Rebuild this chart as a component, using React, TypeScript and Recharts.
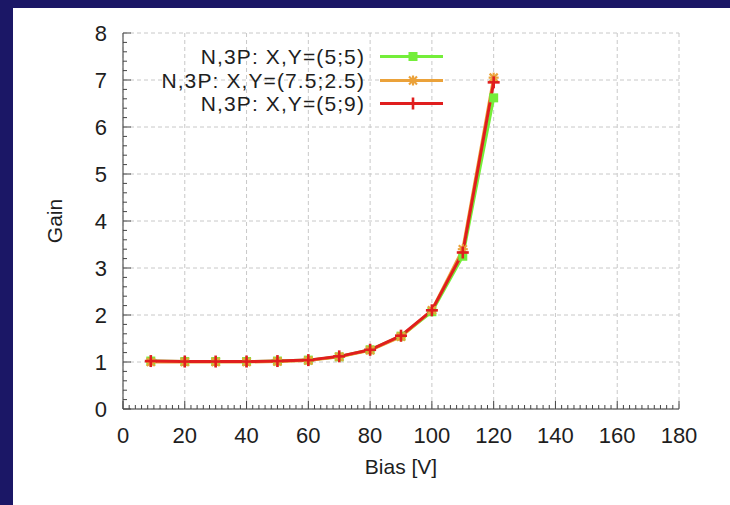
import React from "react";
import {
  LineChart,
  Line,
  XAxis,
  YAxis,
  CartesianGrid,
  Legend,
} from "recharts";

// bias voltage points (V)
const biasV = [9, 20, 30, 40, 50, 60, 70, 80, 90, 100, 110, 120];
// gain per pixel position
const gain55 = [1.02, 1.01, 1.01, 1.01, 1.02, 1.04, 1.11, 1.26, 1.55, 2.07, 3.25, 6.62];
const gain7525 = [1.0, 1.0, 1.0, 1.0, 1.01, 1.03, 1.11, 1.25, 1.54, 2.1, 3.4, 7.05];
const gain59 = [1.02, 1.01, 1.01, 1.01, 1.02, 1.04, 1.12, 1.26, 1.56, 2.1, 3.33, 6.95];

const xMajor = [0, 20, 40, 60, 80, 100, 120, 140, 160, 180];
const xAllTicks = Array.from({ length: 91 }, (_, i) => i * 2);
const yMajor = [0, 1, 2, 3, 4, 5, 6, 7, 8];
const yAllTicks = Array.from({ length: 41 }, (_, i) => Math.round(i * 2) / 10);

const seriesNames = ["N,3P: X,Y=(5;5)", "N,3P: X,Y=(7.5;2.5)", "N,3P: X,Y=(5;9)"];
const seriesColors = ["#74ee3a", "#eba23a", "#e01e1e"];

const data = biasV.map((b, i) => ({
  bias: b,
  g55: gain55[i],
  g7525: gain7525[i],
  g59: gain59[i],
}));

const FONT = '"Liberation Sans", Arial, Helvetica, sans-serif';
const TEXT = "#1e1e1e";
const TICK = "#444";

const Square = ({ cx, cy, color }: any) => (
  <rect x={cx - 4.5} y={cy - 4.5} width={9} height={9} fill={color} />
);

const Star = ({ cx, cy, color }: any) => (
  <g stroke={color} strokeWidth={2.2}>
    <line x1={cx - 5} x2={cx + 5} y1={cy} y2={cy} />
    <line x1={cx} x2={cx} y1={cy - 5} y2={cy + 5} />
    <line x1={cx - 4} x2={cx + 4} y1={cy - 4} y2={cy + 4} />
    <line x1={cx - 4} x2={cx + 4} y1={cy + 4} y2={cy - 4} />
  </g>
);

const Plus = ({ cx, cy, color }: any) => (
  <g stroke={color} strokeWidth={2.6}>
    <line x1={cx - 6} x2={cx + 6} y1={cy} y2={cy} />
    <line x1={cx} x2={cx} y1={cy - 6} y2={cy + 6} />
  </g>
);

const markers = [Square, Star, Plus];

// bottom axis: long tick + label on multiples of 20, short tick otherwise
const XTick = ({ x, y, payload }: any) => {
  const major = payload.value % 20 === 0;
  return (
    <g>
      <line x1={x} x2={x} y1={y} y2={y - (major ? 8 : 4)} stroke={TICK} strokeWidth={1} />
      {major && (
        <text x={x} y={y + 34} textAnchor="middle" fontSize={22} fontFamily={FONT} fill={TEXT}>
          {payload.value}
        </text>
      )}
    </g>
  );
};

const YTick = ({ x, y, payload }: any) => {
  const major = Math.abs(payload.value - Math.round(payload.value)) < 1e-6;
  return (
    <g>
      <line x1={x} x2={x + (major ? 8 : 4)} y1={y} y2={y} stroke={TICK} strokeWidth={1} />
      {major && (
        <text x={x - 16} y={y + 8} textAnchor="end" fontSize={22} fontFamily={FONT} fill={TEXT}>
          {payload.value}
        </text>
      )}
    </g>
  );
};

const LegendBox = () => (
  <div style={{ fontFamily: FONT, fontSize: 21, letterSpacing: 1.1, color: TEXT }}>
    {seriesNames.map((name, i) => {
      const M = markers[i];
      return (
        <div key={name} style={{ display: "flex", alignItems: "center", height: 23.5, lineHeight: "23.5px" }}>
          <span style={{ width: 240, textAlign: "right", whiteSpace: "nowrap" }}>{name}</span>
          <svg width={80} height={23} style={{ marginLeft: 15 }}>
            <line x1={0} x2={63} y1={11.5} y2={11.5} stroke={seriesColors[i]} strokeWidth={3} />
            <M cx={33} cy={11.5} color={seriesColors[i]} />
          </svg>
        </div>
      );
    })}
  </div>
);

export default function App() {
  const keys = ["g55", "g7525", "g59"];
  return (
    <div style={{ position: "absolute", left: 0, top: 0, width: 730, height: 505, background: "#1b1766" }}>
      <div style={{ position: "absolute", left: 13, top: 8, width: 717, height: 497, background: "#ffffff" }} />
      <div style={{ position: "absolute", left: 0, top: 0 }}>
        <LineChart width={730} height={505} data={data} margin={{ top: 33, right: 51, bottom: 0, left: 0 }}>
          <CartesianGrid
            stroke="#c8c8c8"
            strokeDasharray="4 3"
            verticalValues={xMajor}
            horizontalValues={yMajor}
          />
          <XAxis
            dataKey="bias"
            type="number"
            domain={[0, 180]}
            ticks={xAllTicks}
            interval={0}
            height={96}
            axisLine={{ stroke: "#777", strokeWidth: 1.5 }}
            tickLine={false}
            tickSize={0}
            tickMargin={0}
            tick={<XTick />}
            label={{ value: "Bias [V]", position: "insideTop", offset: 50, fontSize: 21, fontFamily: FONT, fill: TEXT }}
          />
          <XAxis
            xAxisId="top"
            orientation="top"
            dataKey="bias"
            type="number"
            domain={[0, 180]}
            height={0}
            tick={false}
            tickLine={false}
            axisLine={{ stroke: "#aaa", strokeWidth: 2 }}
          />
          <YAxis
            type="number"
            domain={[0, 8]}
            ticks={yAllTicks}
            interval={0}
            width={123}
            axisLine={{ stroke: "#777", strokeWidth: 1.5 }}
            tickLine={false}
            tickSize={0}
            tickMargin={0}
            tick={<YTick />}
            label={{
              content: ({ viewBox }: any) => (
                <text
                  x={viewBox.x + 54}
                  y={viewBox.y + viewBox.height / 2}
                  transform={`rotate(-90 ${viewBox.x + 54} ${viewBox.y + viewBox.height / 2})`}
                  textAnchor="middle"
                  dominantBaseline="central"
                  fontSize={21}
                  fontFamily={FONT}
                  fill={TEXT}
                >
                  Gain
                </text>
              ),
            }}
          />
          <YAxis
            yAxisId="right"
            orientation="right"
            type="number"
            domain={[0, 8]}
            width={0}
            tick={false}
            tickLine={false}
            axisLine={{ stroke: "#999", strokeWidth: 3 }}
          />
          <Legend
            layout="vertical"
            align="center"
            verticalAlign="middle"
            content={<LegendBox />}
            wrapperStyle={{ left: 125, top: 45, width: 340, height: 72 }}
          />
          {keys.map((k, i) => {
            const M = markers[i];
            return (
              <Line
                key={k}
                type="linear"
                dataKey={k}
                name={seriesNames[i]}
                stroke={seriesColors[i]}
                strokeWidth={3}
                isAnimationActive={false}
                dot={(p: any) => <M key={`${k}-${p.index}`} cx={p.cx} cy={p.cy} color={seriesColors[i]} />}
                activeDot={false}
              />
            );
          })}
        </LineChart>
      </div>
    </div>
  );
}
